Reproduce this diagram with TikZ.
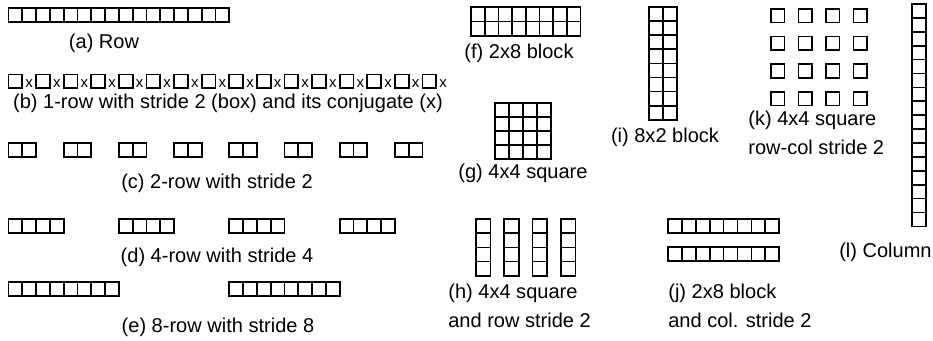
\documentclass[tikz,border=0pt]{standalone}
\usepackage{fontspec}
\setmainfont{Liberation Sans}
\usetikzlibrary{positioning}

% a block of cells: x, y, columns, rows, cell width, cell height
\newcommand{\cellblock}[6]{\foreach \i in {1,...,#3}{\foreach \j in {1,...,#4}{\draw[cell] ({#1+(\i-1)*#5},{#2+(\j-1)*#6}) rectangle ++(#5,#6);}}}

\tikzset{
  cell/.style={draw=black, line width=1pt},
  lbl/.style={font=\fontsize{11.4}{16.2}\selectfont, inner sep=0pt},
  conj/.style={font=\fontsize{8.5}{10}\selectfont, inner sep=0pt, anchor=base}
}

\begin{document}
\begin{tikzpicture}[x=0.02cm, y=-0.02cm]
\useasboundingbox (0,0) rectangle (933,341);
% left column: rows with strides
\cellblock{8.5}{8}{16}{1}{13.8}{13.8}
\node[lbl] (lblA) at (104,43) {(a) Row};
\foreach \k in {0,...,15}{\draw[cell] ({8.5+27.6*\k},74.5) rectangle ++(13.8,13.8);\node[conj] (x\k) at ({29.2+27.6*\k},88) {x};}
\node[lbl] (lblB) at (228,103) {(b) 1-row with stride 2 (box) and its conjugate (x)};
\foreach \k in {0,...,7}{\cellblock{8.5+55.2*\k}{143}{2}{1}{13.8}{13.8}}
\node[lbl] (lblC) at (217,183) {(c) 2-row with stride 2};
\foreach \k in {0,...,3}{\cellblock{8.5+110.4*\k}{219}{4}{1}{13.8}{13.8}}
\node[lbl] (lblD) at (217,257) {(d) 4-row with stride 4};
\foreach \k in {0,1}{\cellblock{8.5+220.8*\k}{282}{8}{1}{13.8}{13.8}}
\node[lbl] (lblE) at (218,327) {(e) 8-row with stride 8};
% middle: blocks and squares
\cellblock{471}{7}{8}{2}{13.7}{14.4}
\node[lbl] (lblF) at (519,53) {(f) 2x8 block};
\cellblock{495}{103}{4}{4}{14}{14}
\node[lbl] (lblG) at (523,173) {(g) 4x4 square};
\foreach \k in {0,...,3}{\cellblock{476+28.3*\k}{219}{1}{4}{14.5}{14.2}}
\node[lbl, align=left, anchor=west] (lblH) at (448,306) {(h) 4x4 square\\and row stride 2};
\cellblock{649}{7}{2}{8}{14}{14.1}
\node[lbl] (lblI) at (665,137) {(i) 8x2 block};
\foreach \k in {0,1}{\cellblock{668}{219+28*\k}{8}{1}{13.9}{14}}
\node[lbl, align=left, anchor=west] (lblJ) at (668,306) {(j) 2x8 block\\and col. stride 2};
% right: strided square and column
\foreach \i in {0,...,3}{\foreach \j in {0,...,3}{\draw[cell] ({771+27.5*\i},{9+27.6*\j}) rectangle ++(13.6,13.6);}}
\node[lbl, align=left, anchor=west] (lblK) at (748,133) {(k) 4x4 square\\row-col stride 2};
\cellblock{912}{4}{1}{16}{14}{13.9}
\node[lbl, anchor=east] (lblL) at (932,252) {(l) Column};
\end{tikzpicture}
\end{document}
